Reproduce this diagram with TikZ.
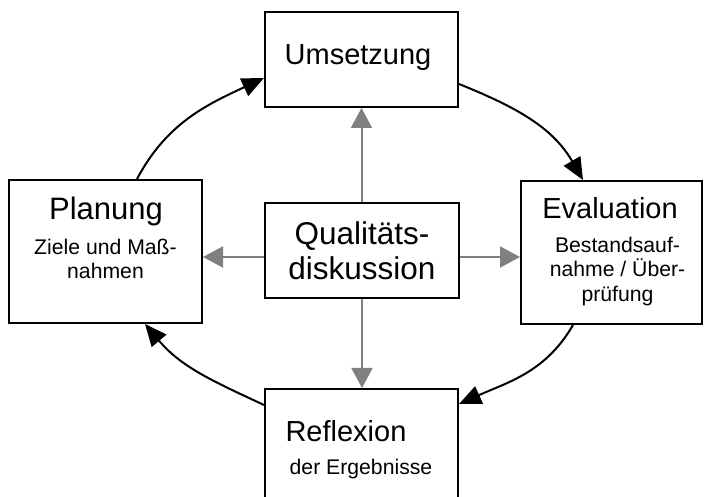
\documentclass[tikz,border=0pt]{standalone}
\usepackage{fontspec}
\setmainfont{Liberation Sans}
\usetikzlibrary{arrows.meta}
\begin{document}
\begin{tikzpicture}[x=1pt,y=1pt,
  box/.style={draw=black, line width=2pt, fill=white, rectangle, inner sep=0pt},
  lbl/.style={anchor=base, inner sep=0pt},
  grayarrow/.style={draw={rgb,255:red,128;green,128;blue,128}, line width=2pt,
    -{Triangle[length=20pt,width=21pt]}},
  cyclearrow/.style={draw=black, line width=2pt, -{Triangle[length=22pt,width=19pt]}}]
\useasboundingbox (0,0) rectangle (704,497);
\clip (0,0) rectangle (704,497);
% boxes
\node[box, minimum width=193pt, minimum height=95pt] (U) at (361.5,437.5) {};
\node[box, minimum width=193pt, minimum height=143pt] (P) at (105.5,245.5) {};
\node[box, minimum width=181pt, minimum height=143pt] (E) at (611.5,244.5) {};
\node[box, minimum width=194pt, minimum height=95pt] (Q) at (362,246.5) {};
\node[box, minimum width=193pt, minimum height=143pt] (R) at (361.5,36.5) {};
% texts
\node[lbl, font=\fontsize{29}{34}\selectfont] (tU) at (358,432) {Umsetzung};
\node[lbl, font=\fontsize{31.5}{36}\selectfont] (tQ1) at (362,252) {Qualitäts-};
\node[lbl, font=\fontsize{31.5}{36}\selectfont] (tQ2) at (362,217) {diskussion};
\node[lbl, font=\fontsize{31}{36}\selectfont] (tP) at (106,277) {Planung};
\node[lbl, font=\fontsize{21.2}{24}\selectfont] (tP1) at (105.5,242) {Ziele und Maß-};
\node[lbl, font=\fontsize{21.2}{24}\selectfont] (tP2) at (105.5,218) {nahmen};
\node[lbl, font=\fontsize{29}{34}\selectfont] (tE) at (610,278) {Evaluation};
\node[lbl, font=\fontsize{21.2}{24}\selectfont] (tE1) at (617.5,244) {Bestandsauf-};
\node[lbl, font=\fontsize{21.2}{24}\selectfont] (tE2) at (617.5,220) {nahme / Über-};
\node[lbl, font=\fontsize{21.2}{24}\selectfont] (tE3) at (617.5,195) {prüfung};
\node[lbl, font=\fontsize{29}{34}\selectfont] (tR) at (346,55) {Reflexion};
\node[lbl, font=\fontsize{21.2}{24}\selectfont] (tR1) at (361,22) {der Ergebnisse};
% gray arrows
\draw[grayarrow] ([xshift=-0.5pt]Q.north) -- ([xshift=-0.5pt]Q.north |- U.south);
\draw[grayarrow] (Q.south) -- (Q.south |- R.north);
\draw[grayarrow] ([yshift=-6.5pt]Q.west) -- ([yshift=-6.5pt]Q.west -| P.east);
\draw[grayarrow] ([yshift=-6.5pt]Q.east) -- ([yshift=-6.5pt]Q.east -| E.west);
% cycle arrows
\draw[cyclearrow] ([xshift=31.5pt]P.north) to[out=62, in=205] ([yshift=-18.5pt]U.west);
\draw[cyclearrow] ([yshift=-24.5pt]U.east) to[out=-22, in=120] ([xshift=-28.5pt]E.north);
\draw[cyclearrow] ([xshift=-38.5pt]E.south) to[out=-120, in=24] ([yshift=-16pt]R.north east);
\draw[cyclearrow] ([yshift=-17pt]R.north west) to[out=155, in=310] ([xshift=39.5pt]P.south);
\end{tikzpicture}
\end{document}
